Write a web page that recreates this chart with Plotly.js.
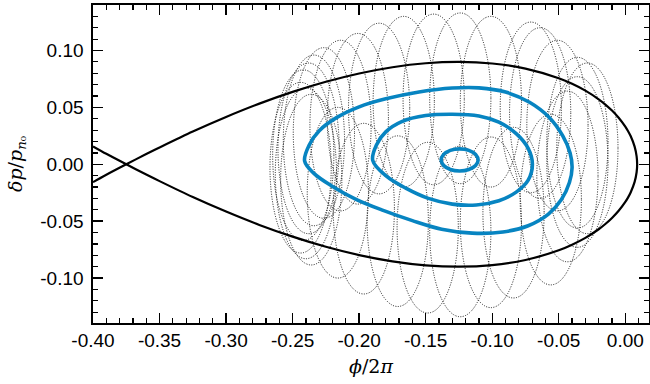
<!DOCTYPE html>
<html>
<head>
<meta charset="utf-8">
<script src="https://cdn.plot.ly/plotly-3.0.1.min.js"></script>
<style>html,body{margin:0;padding:0;background:#fff;}#chart{width:650px;height:384px;}</style>
</head>
<body>
<div id="chart"></div>
<script>
// ---- data ----
const xTickVals = [-0.40, -0.35, -0.30, -0.25, -0.20, -0.15, -0.10, -0.05, 0.00];
const xTickText = ['-0.40', '-0.35', '-0.30', '-0.25', '-0.20', '-0.15', '-0.10', '-0.05', '0.00'];
const yTickVals = [-0.10, -0.05, 0.00, 0.05, 0.10];
const yTickText = ['-0.10', '-0.05', '0.00', '0.05', '0.10'];

// separatrix (ordered path)
const sepPhi = [-0.40, -0.39, -0.375, -0.36, -0.35, -0.325, -0.30, -0.275, -0.25, -0.225, -0.20, -0.175, -0.15, -0.125, -0.10, -0.075, -0.05, -0.04, -0.03, -0.02, -0.015, -0.01, -0.005, 0.0, 0.002, 0.004, 0.007, 0.0085, 0.0089,
                0.0085, 0.007, 0.004, 0.002, 0.0, -0.005, -0.01, -0.015, -0.02, -0.03, -0.04, -0.05, -0.075, -0.10, -0.125, -0.15, -0.175, -0.20, -0.225, -0.25, -0.275, -0.30, -0.325, -0.35, -0.36, -0.375, -0.39, -0.40];
const sepDp  = [-0.0157, -0.0092, 0, 0.0090, 0.0148, 0.0288, 0.0416, 0.0533, 0.0636, 0.0725, 0.0798, 0.0853, 0.0888, 0.0900, 0.0886, 0.0841, 0.0756, 0.0707, 0.0647, 0.0571, 0.0525, 0.0472, 0.0409, 0.0331, 0.0293, 0.0248, 0.0155, 0.0070, 0,
                -0.0070, -0.0155, -0.0248, -0.0293, -0.0331, -0.0409, -0.0472, -0.0525, -0.0571, -0.0647, -0.0707, -0.0756, -0.0841, -0.0886, -0.0900, -0.0888, -0.0853, -0.0798, -0.0725, -0.0636, -0.0533, -0.0416, -0.0288, -0.0148, -0.0090, 0, 0.0092, 0.0157];

// blue contours
const outerPhi = [-0.2410, -0.2375, -0.2300, -0.2170, -0.2000, -0.1800, -0.1550, -0.1300, -0.1100, -0.0900, -0.0720, -0.0570, -0.0470, -0.0415, -0.0400, -0.0420, -0.0480, -0.0580, -0.0730, -0.0920, -0.1150, -0.1380, -0.1600, -0.1820, -0.2020, -0.2200, -0.2340, -0.2410];
const outerDp  = [0.0030, 0.0170, 0.0295, 0.0410, 0.0505, 0.0575, 0.0635, 0.0670, 0.0672, 0.0635, 0.0545, 0.0410, 0.0250, 0.0100, -0.0030, -0.0160, -0.0310, -0.0440, -0.0540, -0.0595, -0.0605, -0.0570, -0.0495, -0.0405, -0.0310, -0.0195, -0.0080, 0.0030];
const midPhi = [-0.1898, -0.1870, -0.1800, -0.1680, -0.1500, -0.1300, -0.1100, -0.0950, -0.0820, -0.0730, -0.0698, -0.0730, -0.0820, -0.0950, -0.1120, -0.1300, -0.1480, -0.1650, -0.1800, -0.1898];
const midDp  = [0.0035, 0.0170, 0.0285, 0.0375, 0.0428, 0.0440, 0.0425, 0.0370, 0.0270, 0.0140, 0.0000, -0.0140, -0.0245, -0.0320, -0.0358, -0.0350, -0.0300, -0.0210, -0.0100, 0.0035];
const innerPhi = [-0.1106, -0.1125, -0.1176, -0.1245, -0.1315, -0.1365, -0.1384, -0.1365, -0.1315, -0.1245, -0.1176, -0.1125, -0.1106];
const innerDp  = [0.0038, 0.0087, 0.0122, 0.0135, 0.0122, 0.0087, 0.0038, -0.0011, -0.0046, -0.0059, -0.0046, -0.0011, 0.0038];

// dotted orbit loops: centres of the fast loops
const loopPhi = [-0.234, -0.2265, -0.214, -0.201, -0.185, -0.1665, -0.144, -0.124, -0.101, -0.071, -0.064, -0.051, -0.036, -0.0285,
                 -0.238, -0.242, -0.244, -0.240, -0.236, -0.216, -0.1965, -0.171, -0.1485, -0.124, -0.101, -0.084, -0.056, -0.0435, -0.036];
const loopDp  = [0.021, 0.0275, 0.034, 0.040, 0.049, 0.055, 0.057, 0.058, 0.055, 0.050, 0.045, 0.034, 0.019, 0.014,
                 0.014, 0.008, -0.003, -0.008, -0.0135, -0.025, -0.039, -0.050, -0.0557, -0.059, -0.051, -0.0425, -0.031, -0.0107, 0.002];
const loopHalfWidth = 0.023;
const loopHalfHeight = 0.075;

// ---- figure ----
const blue = '#0784c1';
const shapes = loopPhi.map((c, i) => ({
  type: 'circle', xref: 'x', yref: 'y', layer: 'below',
  x0: c - loopHalfWidth, x1: c + loopHalfWidth,
  y0: loopDp[i] - loopHalfHeight, y1: loopDp[i] + loopHalfHeight,
  line: {color: '#151515', width: 1, dash: '1px,1.5px'}
}));

const traces = [
  {x: sepPhi, y: sepDp, mode: 'lines', line: {color: '#000', width: 2.2, shape: 'spline', smoothing: 0.8}, hoverinfo: 'skip'},
  {x: outerPhi, y: outerDp, mode: 'lines', line: {color: blue, width: 3.6, shape: 'spline', smoothing: 1}, hoverinfo: 'skip'},
  {x: midPhi, y: midDp, mode: 'lines', line: {color: blue, width: 3.6, shape: 'spline', smoothing: 1}, hoverinfo: 'skip'},
  {x: innerPhi, y: innerDp, mode: 'lines', line: {color: blue, width: 3.6, shape: 'spline', smoothing: 1}, hoverinfo: 'skip'}
];

const tickFont = {family: 'Liberation Sans, Arial, sans-serif', size: 19, color: '#000'};
const layout = {
  width: 650, height: 384,
  margin: {l: 93, r: 1, t: 5, b: 61},
  paper_bgcolor: '#fff', plot_bgcolor: '#fff',
  showlegend: false,
  shapes: shapes,
  xaxis: {
    range: [-0.40, 0.0178], showgrid: false, zeroline: false,
    showline: true, linecolor: '#000', linewidth: 1.6, mirror: 'allticks',
    ticks: 'inside', ticklen: 10, tickwidth: 1.4, tickcolor: '#000',
    tickvals: xTickVals, ticktext: xTickText, tickfont: tickFont,
    minor: {ticks: 'inside', dtick: 0.01, tick0: 0, ticklen: 5, tickwidth: 1.2, tickcolor: '#000', showgrid: false},
    title: {text: '<i>ϕ</i>/2<i>π</i>', font: {family: 'DejaVu Serif, serif', size: 19, color: '#000'}, standoff: 9}
  },
  yaxis: {
    range: [-0.1395, 0.14], showgrid: false, zeroline: false,
    showline: true, linecolor: '#000', linewidth: 1.6, mirror: 'allticks',
    ticks: 'inside', ticklen: 10, tickwidth: 1.4, tickcolor: '#000',
    tickvals: yTickVals, ticktext: yTickText, tickfont: tickFont,
    ticklabelstandoff: 4,
    minor: {ticks: 'inside', dtick: 0.01, tick0: 0, ticklen: 5, tickwidth: 1.2, tickcolor: '#000', showgrid: false},
    title: {text: '<i>δp</i>/<i>p</i><sub><i>n</i>₀</sub>', font: {family: 'DejaVu Serif, serif', size: 19, color: '#000'}, standoff: 12}
  }
};

Plotly.newPlot('chart', traces, layout, {staticPlot: true, displayModeBar: false});
</script>
</body>
</html>
